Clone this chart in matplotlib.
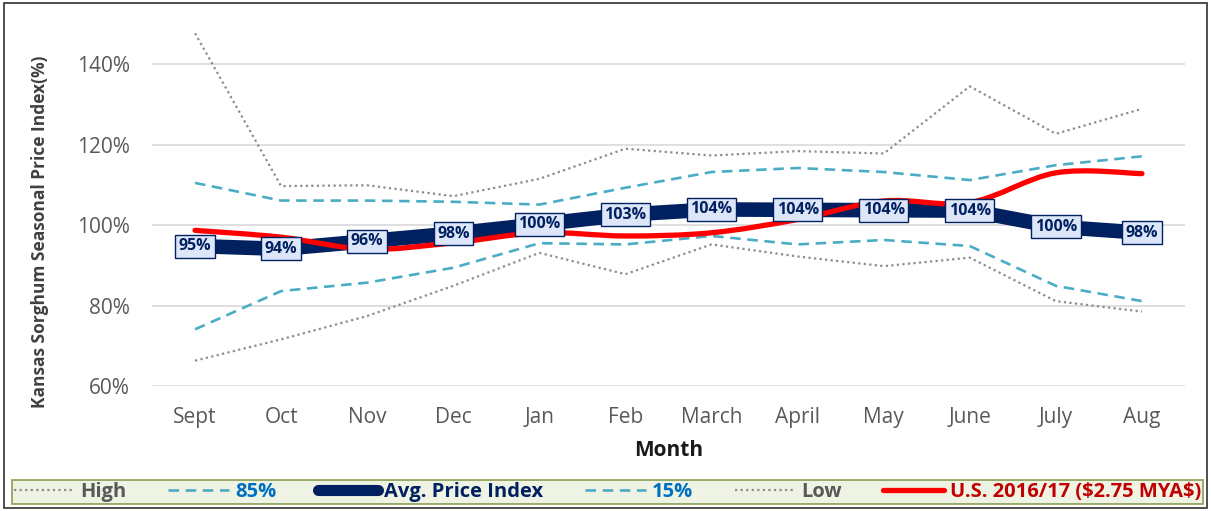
import numpy as np
import matplotlib
matplotlib.use("Agg")
from matplotlib import pyplot as plt
from matplotlib.lines import Line2D
from matplotlib.path import Path
from matplotlib.patches import PathPatch, Rectangle

months = ["Sept", "Oct", "Nov", "Dec", "Jan", "Feb", "March", "April", "May", "June", "July", "Aug"]
high = [147.7, 109.7, 109.9, 107.2, 111.5, 119.0, 117.3, 118.4, 117.8, 134.5, 122.7, 128.9]
pct85 = [110.5, 106.1, 106.1, 105.8, 105.1, 109.3, 113.2, 114.2, 113.2, 111.2, 114.9, 117.1]
avg_index = [94.8, 94.1, 96.0, 97.9, 100.2, 102.6, 103.9, 103.8, 103.7, 103.6, 99.6, 98.1]
pct15 = [74.1, 83.6, 85.7, 89.4, 95.5, 95.2, 97.3, 95.2, 96.3, 94.8, 84.9, 81.1]
low = [66.3, 71.6, 77.4, 84.9, 93.1, 87.8, 95.2, 92.2, 89.8, 91.9, 81.1, 78.5]
us_2016 = [98.7, 97.0, 94.0, 95.6, 98.1, 97.3, 98.1, 101.4, 106.0, 105.6, 113.0, 112.8]

NAVY = "#002060"
TEAL = "#4BACC6"
GRAY = "#8C8C8C"
RED = "#FF0000"

plt.rcParams["font.family"] = ["Open Sans", "DejaVu Sans"]


def smooth_path(xs, ys):
    # Excel-style smoothed line: Catmull-Rom segments as cubic Beziers
    pts = np.column_stack([xs, ys]).astype(float)
    n = len(pts)
    verts = [pts[0]]
    codes = [Path.MOVETO]
    for i in range(n - 1):
        p0 = pts[i - 1] if i > 0 else pts[i]
        p1 = pts[i]
        p2 = pts[i + 1]
        p3 = pts[i + 2] if i + 2 < n else pts[i + 1]
        c1 = p1 + (p2 - p0) / 6
        c2 = p2 - (p3 - p1) / 6
        verts += [c1, c2, p2]
        codes += [Path.CURVE4] * 3
    return Path(verts, codes)


fig = plt.figure(figsize=(12.11, 5.11), dpi=100)
ax = fig.add_axes([152 / 1211, 1 - 386 / 511, (1185 - 152) / 1211, (386 - 24) / 511])

x = np.arange(len(months))
ax.plot(x, high, color=GRAY, lw=1.6, ls=(0, (1, 1.5)), zorder=2)
ax.plot(x, pct85, color=TEAL, lw=1.9, ls=(0, (4, 2.5)), zorder=2)
ax.plot(x, avg_index, color=NAVY, lw=10.5, solid_joinstyle="miter", zorder=3)
ax.plot(x, pct15, color=TEAL, lw=1.9, ls=(0, (4, 2.5)), zorder=2)
ax.plot(x, low, color=GRAY, lw=1.6, ls=(0, (1, 1.5)), zorder=2)
ax.add_patch(PathPatch(smooth_path(x, us_2016), fill=False, edgecolor=RED, lw=3.8,
                       capstyle="round", zorder=4))

for xi, v in zip(x, avg_index):
    ax.text(xi, v, f"{v:.0f}%", ha="center", va="center", fontsize=11.5, fontweight="bold",
            color=NAVY, zorder=5,
            bbox=dict(boxstyle="square,pad=0.22", facecolor="#DCE6F8", edgecolor=NAVY, lw=1.0))

ax.set_xlim(-0.5, len(months) - 0.5)
ax.set_ylim(60, 150)
ax.set_yticks([60, 80, 100, 120, 140])
ax.set_yticklabels([f"{t}%" for t in [60, 80, 100, 120, 140]])
ax.set_xticks(x)
ax.set_xticklabels(months)
ax.tick_params(axis="both", length=0, labelsize=15, labelcolor="#595959")
ax.tick_params(axis="y", pad=16)
ax.tick_params(axis="x", pad=15)
ax.grid(axis="y", color="#D9D9D9", lw=1.2)
ax.set_axisbelow(True)
for s in ax.spines.values():
    s.set_visible(False)

ax.set_xlabel("Month", fontsize=15, fontweight="bold", color="#1A1A1A", labelpad=9)
fig.text(40 / 1211, 1 - 232 / 511, "Kansas Sorghum Seasonal Price Index(%)", rotation=90,
         ha="center", va="center", fontsize=12.5, fontweight="bold", color="#404040")

# outer chart frame
fig.patches.append(Rectangle((4 / 1211, 3 / 511), 1203 / 1211, 505 / 511, transform=fig.transFigure,
                             fill=False, edgecolor="#404040", lw=1.3))

handles = [
    Line2D([], [], color=GRAY, lw=1.6, ls=(0, (1, 1.5))),
    Line2D([], [], color=TEAL, lw=1.9, ls=(0, (4, 2.5))),
    Line2D([], [], color=NAVY, lw=8, solid_capstyle="round"),
    Line2D([], [], color=TEAL, lw=1.9, ls=(0, (4, 2.5))),
    Line2D([], [], color=GRAY, lw=1.6, ls=(0, (1, 1.5))),
    Line2D([], [], color=RED, lw=3.8, solid_capstyle="round"),
]
labels = ["High", "85%", "Avg. Price Index", "15%", "Low", "U.S. 2016/17 (\\$2.75 MYA\\$)"]
text_colors = ["#595959", "#0070C0", NAVY, "#0070C0", "#595959", "#C00000"]
leg = fig.legend(handles, labels, loc="lower left",
                 bbox_to_anchor=(12 / 1211, 1 - 504 / 511, 1191 / 1211, 33 / 511),
                 mode="expand", ncol=6, frameon=True, fancybox=False, handlelength=3.0,
                 handletextpad=0.3, columnspacing=0.5, prop=dict(size=14.5, weight="bold"),
                 borderpad=0.1, borderaxespad=0)
leg.get_frame().set_facecolor("#EBF1DE")
leg.get_frame().set_edgecolor("#76923C")
leg.get_frame().set_linewidth(1.3)
for t, c in zip(leg.get_texts(), text_colors):
    t.set_color(c)

fig.savefig("out.png", dpi=100)
